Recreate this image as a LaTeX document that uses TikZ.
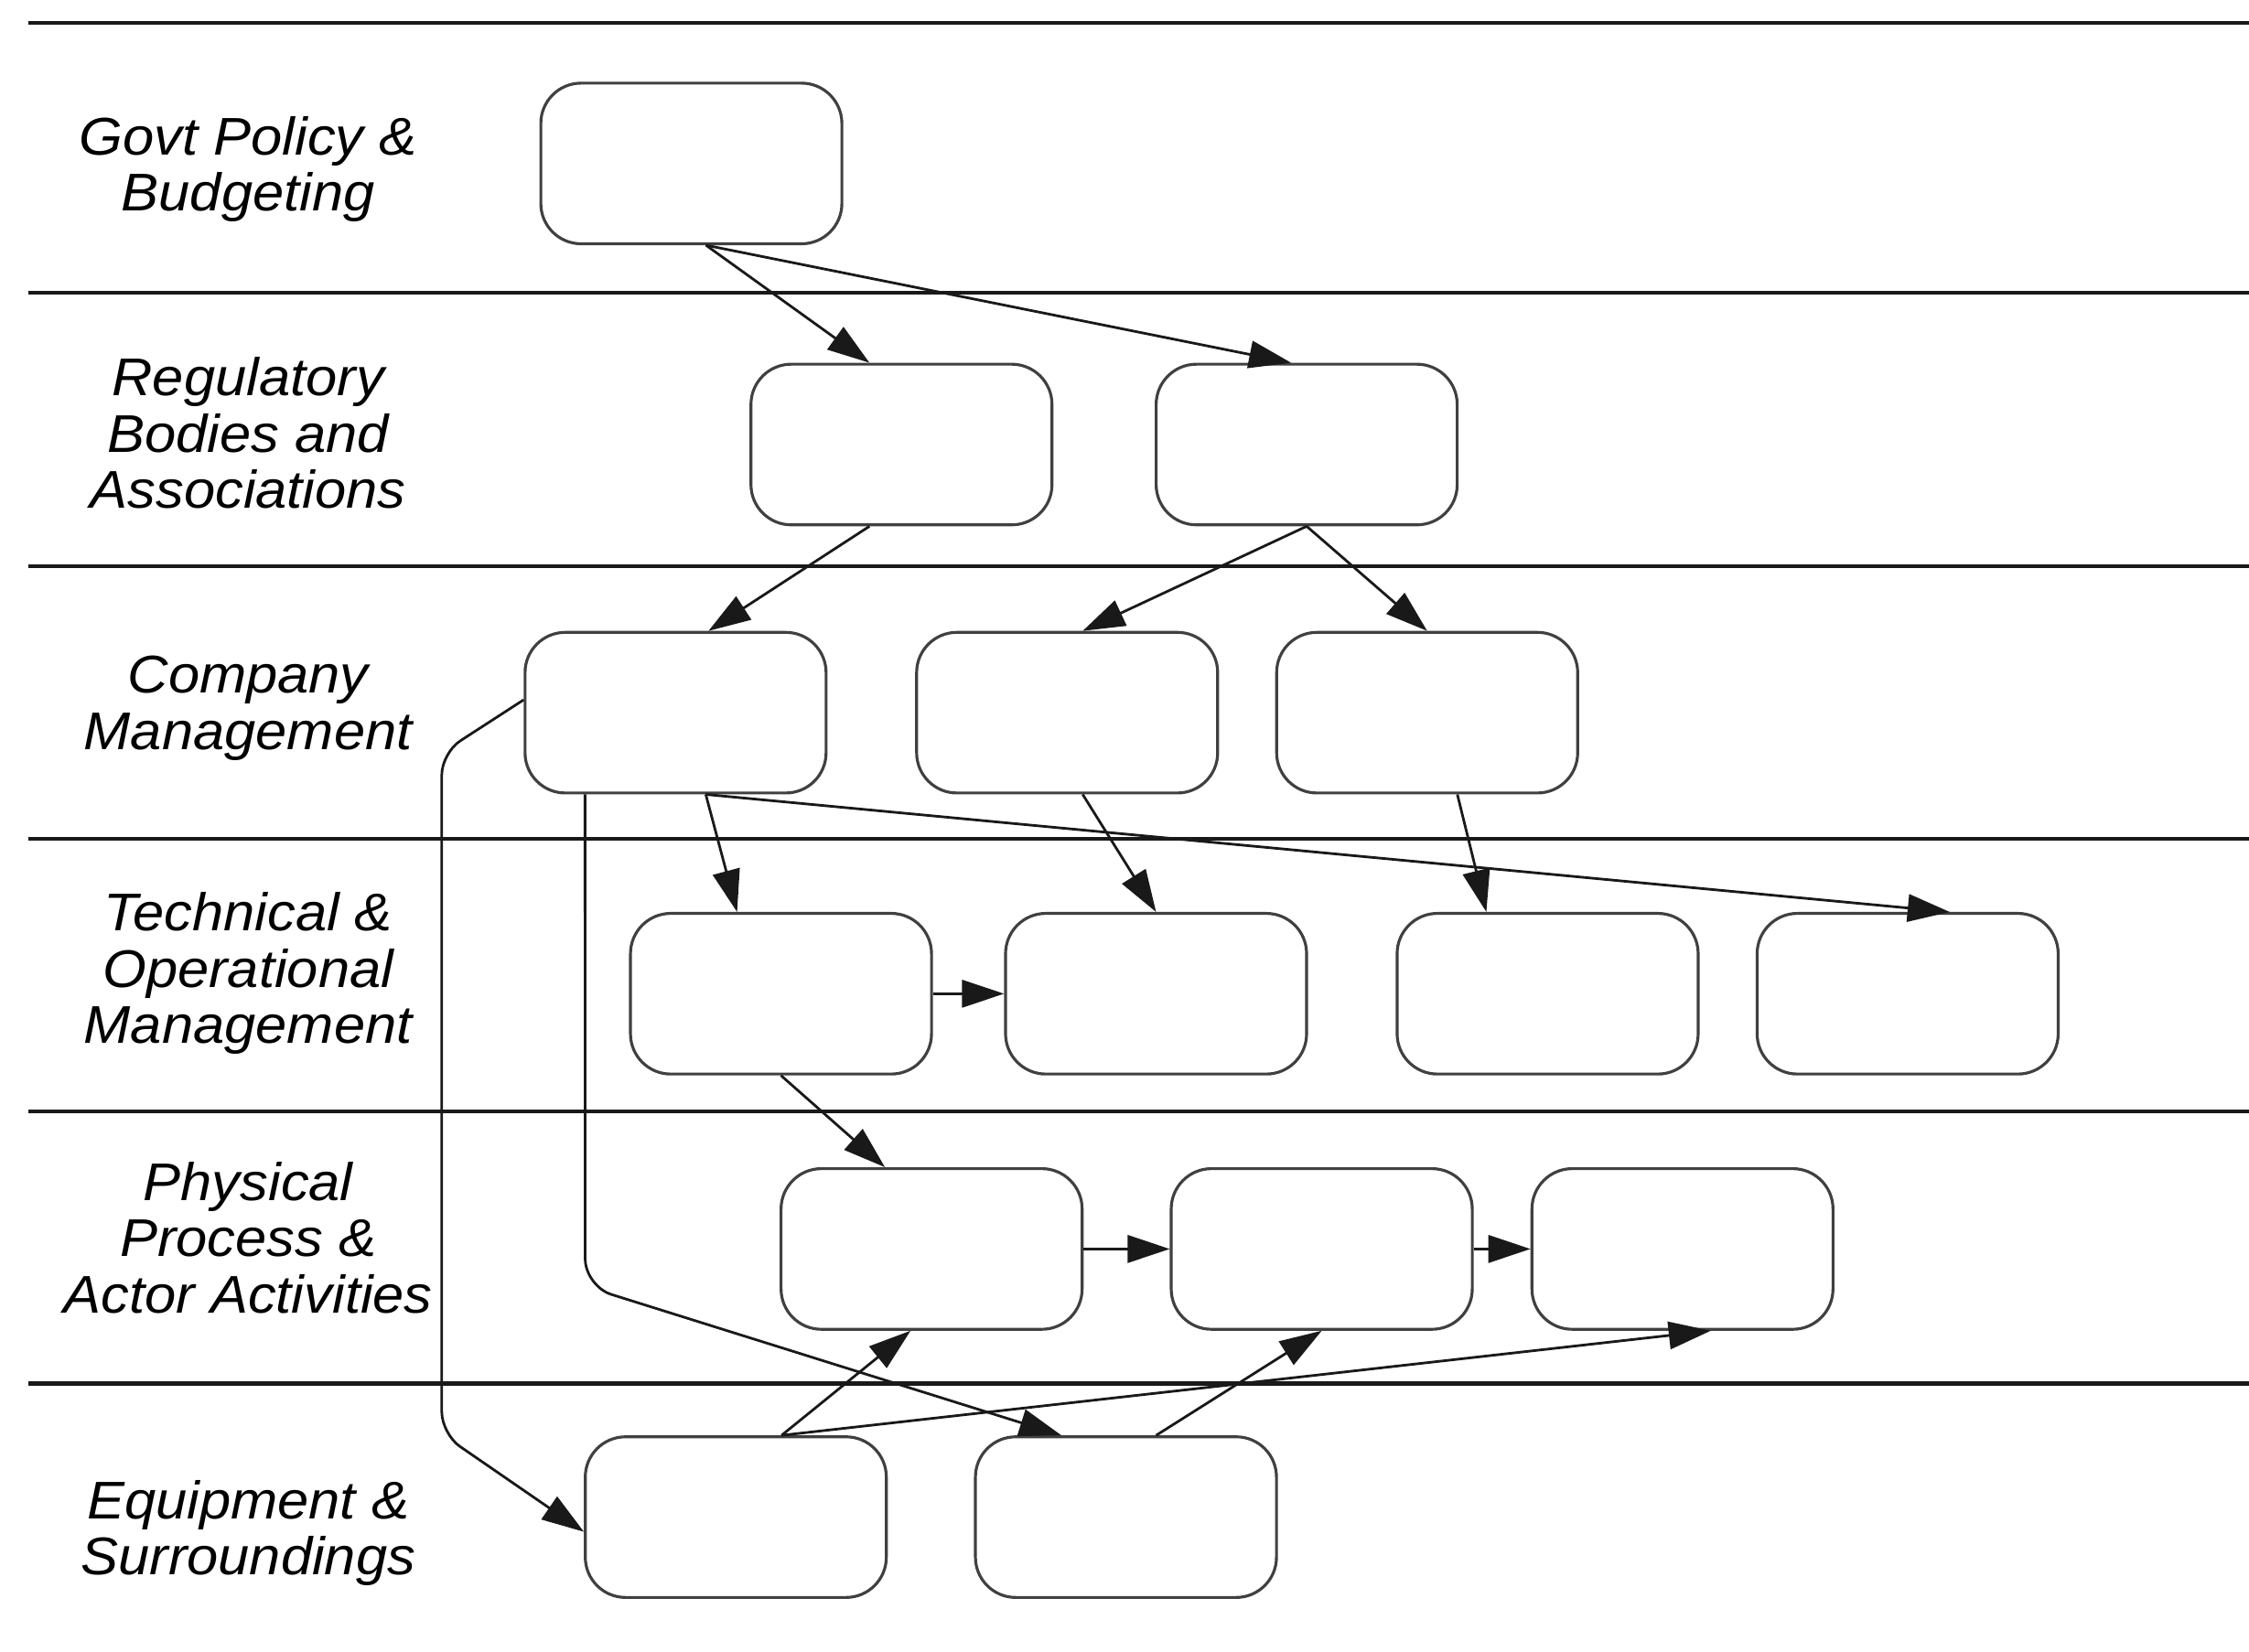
\documentclass[tikz,border=0pt]{standalone}
\usepackage{fontspec}
\setmainfont{Liberation Sans}[FakeStretch=1.06]
\usetikzlibrary{arrows.meta}

\begin{document}
\begin{tikzpicture}[x=0.15676mm,y=-0.15676mm,
  box/.style={rectangle,rounded corners=4.4mm,draw=black!75,line width=0.9pt,fill=white,minimum width=3.29cm,minimum height=1.756cm,inner sep=0pt},
  lane/.style={align=center,font=\fontsize{16.5}{17.5}\selectfont\itshape},
  arr/.style={-{Triangle[length=4.6mm,width=3mm]},line width=0.8pt,black!90},
  sep/.style={line width=1.3pt,black!90}]
\useasboundingbox (0,0) rectangle (1568,1152);
%\draw[help lines, step=100] (0,0) grid (1568,1152);
\draw[sep](20,16)--(1568,16);
\draw[sep](20,204)--(1568,204);
\draw[sep](20,395)--(1568,395);
\draw[sep](20,585)--(1568,585);
\draw[sep](20,775)--(1568,775);
\draw[sep](20,965)--(1568,965);

\node[lane](lg) at (173,118) {Govt Policy \&\\Budgeting};
\node[lane](lr) at (173,302) {Regulatory\\Bodies and\\Associations};
\node[lane](lc) at (173,494) {Company\\Management};
\node[lane](lt) at (173,679) {Technical \&\\Operational\\Management};
\node[lane](lp) at (173,863) {Physical\\Process \&\\Actor Activities};
\node[lane](le) at (173,1069) {Equipment \&\\Surroundings};

\node[box](g1) at (482,114) {};
\node[box](r1) at (628.5,310) {};
\node[box](r2) at (911,310) {};
\node[box](c1) at (471,497) {};
\node[box](c2) at (744,497) {};
\node[box](c3) at (995,497) {};
\node[box](t1) at (544.5,693) {};
\node[box](t2) at (806,693) {};
\node[box](t3) at (1079,693) {};
\node[box](t4) at (1330,693) {};
\node[box](p1) at (649.5,871) {};
\node[box](p2) at (921.5,871) {};
\node[box](p3) at (1173,871) {};
\node[box](e1) at (513,1058) {};
\node[box](e2) at (785,1058) {};

\draw[arr]([xshift=1.6mm]g1.south)--([xshift=-3.5mm]r1.north);
\draw[arr]([xshift=1.6mm]g1.south)--([xshift=-1.7mm]r2.north);
\draw[arr]([xshift=-3.5mm]r1.south)--([xshift=3.6mm]c1.north);
\draw[arr](r2.south)--([xshift=1.7mm]c2.north);
\draw[arr](r2.south)--(c3.north);
\draw[arr]([xshift=3.3mm]c1.south)--([xshift=-4.8mm]t1.north);
\draw[arr]([xshift=1.7mm]c2.south)--(t2.north);
\draw[arr]([xshift=3.3mm]c3.south)--([xshift=-6.7mm]t3.north);
\draw[arr]([xshift=3.3mm]c1.south)--([xshift=4.6mm]t4.north);
\draw[arr](t1)--(t2);
\draw[arr](t1.south)--([xshift=-5.1mm]p1.north);
\draw[arr](p1)--(p2);
\draw[arr](p2)--(p3);
\draw[arr]([xshift=5mm]e1.north)--([xshift=-2.3mm]p1.south);
\draw[arr]([xshift=5mm]e1.north)--([xshift=3.1mm]p3.south);
\draw[arr]([xshift=3.3mm]e2.north)--(p2.south);
\draw[arr,rounded corners=2.4mm]([yshift=1.4mm]c1.west)--(308,525)--(308,1000)--([yshift=-1.6mm]e1.west);
\draw[arr,rounded corners=3mm]([xshift=-9.9mm]c1.south)--(408,897)--([xshift=-7.05mm]e2.north);
\end{tikzpicture}
\end{document}
